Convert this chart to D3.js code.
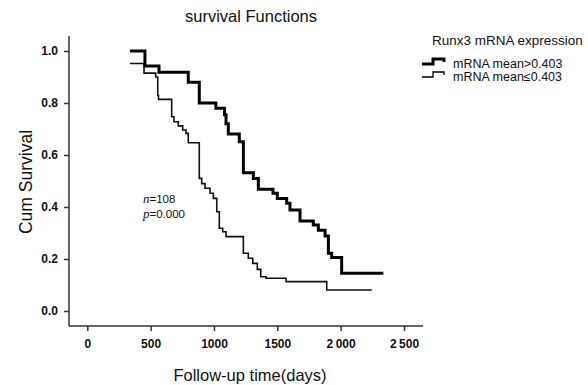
<!DOCTYPE html>
<html>
<head>
<meta charset="utf-8">
<script src="https://cdn.jsdelivr.net/npm/d3@7"></script>
<style>
  body { margin: 0; background: #fff; }
  text { font-family: "Liberation Sans", Arial, sans-serif; fill: #111; }
</style>
</head>
<body>
<svg class="km" width="588" height="385"></svg>
<script>
// Kaplan-Meier steps: [days, cum survival]
var highDays = [337, 455, 566, 797, 884, 1015, 1083, 1095, 1113, 1200, 1232, 1311, 1350, 1466, 1500, 1574, 1600, 1679, 1784, 1824, 1877, 1903, 1929, 2008, 2337];
var highSurv = [1.0, 0.942, 0.918, 0.88, 0.80, 0.78, 0.755, 0.72, 0.681, 0.651, 0.532, 0.51, 0.468, 0.453, 0.433, 0.414, 0.388, 0.346, 0.331, 0.311, 0.288, 0.222, 0.206, 0.145, 0.145];
var lowDays = [337, 448, 540, 556, 562, 666, 684, 718, 753, 779, 797, 884, 903, 929, 969, 995, 1022, 1042, 1069, 1095, 1232, 1271, 1306, 1342, 1369, 1411, 1569, 1890, 2245];
var lowSurv = [0.952, 0.915, 0.90, 0.83, 0.814, 0.747, 0.728, 0.712, 0.696, 0.683, 0.647, 0.51, 0.49, 0.472, 0.453, 0.433, 0.382, 0.318, 0.305, 0.286, 0.222, 0.203, 0.183, 0.16, 0.132, 0.126, 0.113, 0.081, 0.081];
var xTicks = [0, 500, 1000, 1500, 2000, 2500];
var xTickLabels = ["0", "500", "1000", "1500", "2\u2009000", "2\u2009500"];
var yTicks = [0, 0.2, 0.4, 0.6, 0.8, 1.0];
var legendLabels = ["mRNA mean>0.403", "mRNA mean\u22640.403"];

var svg = d3.select(".km");

var x = d3.scaleLinear().domain([0, 2500]).range([87.3, 404]);
var y = d3.scaleLinear().domain([0, 1]).range([311, 51]);

// axis frame lines
svg.append("line")
    .attr("x1", 69).attr("x2", 423).attr("y1", 326).attr("y2", 326)
    .attr("stroke", "#333").attr("stroke-width", 1.5);
svg.append("line")
    .attr("x1", 69).attr("x2", 69).attr("y1", 36).attr("y2", 326)
    .attr("stroke", "#333").attr("stroke-width", 1.5);

var xa = svg.append("g").attr("transform", "translate(0,326)")
    .call(d3.axisBottom(x).tickValues(xTicks).tickSize(5)
      .tickFormat(function(d, i) { return xTickLabels[i]; }));
xa.select(".domain").remove();
xa.selectAll("line").attr("stroke", "#333").attr("stroke-width", 1.5);
xa.selectAll("text").attr("dy", 0).attr("y", 22)
    .style("font-size", "12px").style("font-weight", "bold").attr("fill", "#222");

var ya = svg.append("g").attr("transform", "translate(69,0)")
    .call(d3.axisLeft(y).tickValues(yTicks).tickSize(5).tickFormat(d3.format(".1f")));
ya.select(".domain").remove();
ya.selectAll("line").attr("stroke", "#333").attr("stroke-width", 1.5);
ya.selectAll("text").attr("x", -11)
    .style("font-size", "12px").style("font-weight", "bold").attr("fill", "#222");

// step curves
var line = d3.line()
    .x(function(d) { return x(d[0]); })
    .y(function(d) { return y(d[1]); })
    .curve(d3.curveStepAfter);

svg.append("path")
    .datum(d3.zip(lowDays, lowSurv))
    .attr("d", line).attr("fill", "none")
    .attr("stroke", "#111").attr("stroke-width", 1.6);

svg.append("path")
    .datum(d3.zip(highDays, highSurv))
    .attr("d", line).attr("fill", "none")
    .attr("stroke", "#000").attr("stroke-width", 3);

// titles
svg.append("text")
    .attr("x", 251).attr("y", 22)
    .attr("text-anchor", "middle")
    .style("font-size", "16.5px")
    .text("survival Functions");

svg.append("text")
    .attr("transform", "translate(32,182) rotate(-90)")
    .attr("text-anchor", "middle")
    .style("font-size", "17.5px")
    .text("Cum Survival");

svg.append("text")
    .attr("x", 250).attr("y", 381)
    .attr("text-anchor", "middle")
    .style("font-size", "16.5px")
    .text("Follow-up time(days)");

// n / p annotation
var ann = svg.append("g").style("font-size", "11.5px");
var t1 = ann.append("text").attr("x", 143).attr("y", 203);
t1.append("tspan").style("font-family", "'Liberation Serif', serif").style("font-style", "italic").style("font-size", "13px").text("n");
t1.append("tspan").text("=108");
var t2 = ann.append("text").attr("x", 143).attr("y", 217.5);
t2.append("tspan").style("font-family", "'Liberation Serif', serif").style("font-style", "italic").style("font-size", "13px").text("p");
t2.append("tspan").text("=0.000");

// legend
svg.append("text")
    .attr("x", 432).attr("y", 45)
    .style("font-size", "13.5px")
    .text("Runx3 mRNA expression");

var lg = svg.selectAll(".leg")
    .data(legendLabels)
    .enter().append("g")
    .attr("class", "leg")
    .attr("transform", function(d, i) { return "translate(422," + (64 + i * 13) + ")"; });

lg.append("path")
    .attr("d", "M0,0 H11 V-5 H22 V-2")
    .attr("fill", "none")
    .attr("stroke", "#000")
    .attr("stroke-width", function(d, i) { return i ? 1.3 : 3; });

lg.append("text")
    .attr("x", 31).attr("y", 4)
    .style("font-size", "12.5px")
    .text(function(d) { return d; });
</script>
</body>
</html>
